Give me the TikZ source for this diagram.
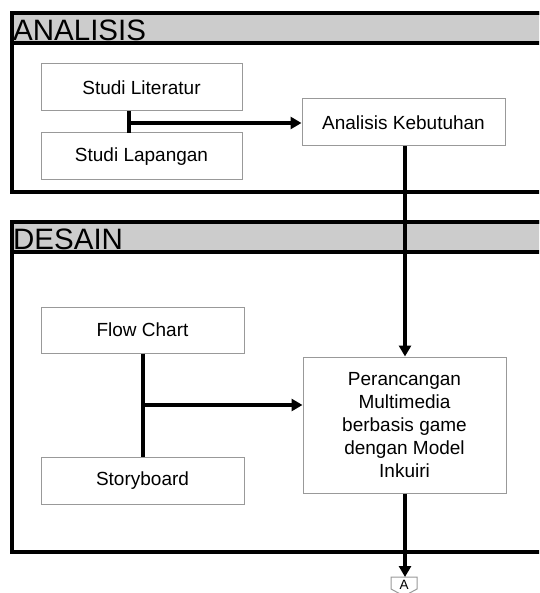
\documentclass[tikz,border=0pt]{standalone}
\usepackage{fontspec}
\setmainfont{Liberation Sans}
\usetikzlibrary{arrows.meta}
\definecolor{hdr}{HTML}{CCCCCC}
\definecolor{bx}{HTML}{999999}
\tikzset{
  frame/.style={draw=black,line width=3.2pt},
  header/.style={draw=black,line width=3.2pt,fill=hdr},
  hdrtext/.style={anchor=south west,inner sep=0pt,font=\fontsize{29.5}{30}\selectfont},
  stepbox/.style={draw=bx,line width=1pt,fill=white,inner sep=0pt,align=center,
    font=\fontsize{19}{23}\selectfont},
  conn/.style={line width=3.3pt},
  arr/.style={conn,-{Triangle[length=11pt,width=12pt]}},
}
\begin{document}
\begin{tikzpicture}[x=1pt,y=-1pt]
\useasboundingbox (0,0) rectangle (539,593);
\clip (0,0) rectangle (539,593);
\fill[white] (0,0) rectangle (539,593);
% ANALISIS frame
\draw[frame] (12,13) rectangle (560,192);
\draw[header] (12,13) rectangle (560,43);
\node[hdrtext] (hA) at (13,40.5) {ANALISIS};
% DESAIN frame
\draw[frame] (12,222) rectangle (560,552);
\draw[header] (12,222) rectangle (560,252);
\node[hdrtext] (hD) at (13,249.5) {DESAIN};
% boxes
\node[stepbox,minimum width=201pt,minimum height=47pt] (sl) at (141.5,87.5) {Studi Literatur};
\node[stepbox,minimum width=201pt,minimum height=47pt] (sp) at (141.5,156.5) {Studi Lapangan};
\node[stepbox,minimum width=203pt,minimum height=47pt] (ak) at (403.5,122.5) {Analisis Kebutuhan};
\node[stepbox,minimum width=203pt,minimum height=46pt] (fc) at (142.5,330) {Flow Chart};
\node[stepbox,minimum width=203pt,minimum height=47pt] (sb) at (142.5,480.5) {Storyboard};
\node[stepbox,minimum width=203pt,minimum height=136pt] (pm) at (404.5,425)
  {Perancangan\\Multimedia\\berbasis game\\dengan Model\\Inkuiri};
% connectors analisis
\coordinate (j1) at (129,123);
\draw[conn] (129,111) -- (129,133);
\draw[arr] (j1) -- (j1 -| ak.west);
\draw[arr] (ak.south -| 405,0) -- (pm.north -| 405,0);
% connectors desain
\coordinate (j2) at (143,405);
\draw[conn] (fc.south -| j2) -- (sb.north -| j2);
\draw[arr] (j2) -- (j2 -| pm.west);
% off-page connector
\coordinate (ca) at (404,577);
\draw[draw=bx,line width=1pt,fill=white] (391,577) -- (417,577) -- (417,589) -- (404,596) -- (391,589) -- cycle;
\node[inner sep=0pt,font=\fontsize{13.5}{14}\selectfont] (lA) at (404,584.5) {A};
\draw[arr] (pm.south -| 405,0) -- (405,577);
\end{tikzpicture}
\end{document}
